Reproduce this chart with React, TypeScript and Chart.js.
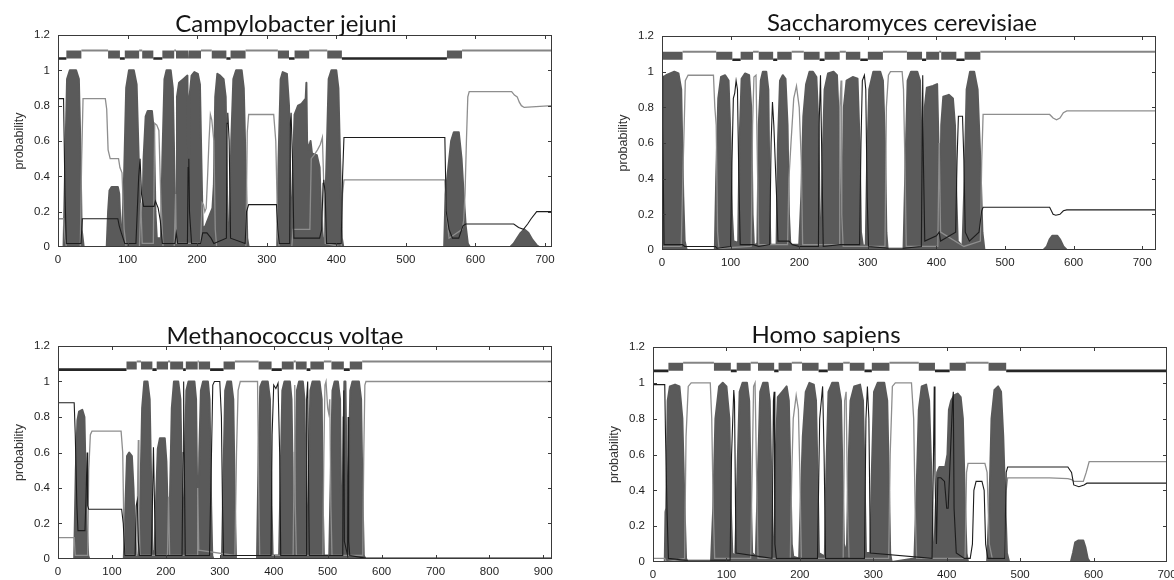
import React, { useEffect, useRef } from 'react';
import { Chart, registerables } from 'chart.js';

Chart.register(...registerables);

type Pt = [number, number];
type Seg = [number, number];

// ---------------- shared tick labels ----------------
const yTickValues = [0, 0.2, 0.4, 0.6, 0.8, 1, 1.2];
const xTicks700 = [0, 100, 200, 300, 400, 500, 600, 700];
const xTicks900 = [0, 100, 200, 300, 400, 500, 600, 700, 800, 900];

// ---------------- Campylobacter jejuni ----------------
const cjTm: Pt[] = [
  [0, 0], [8, 0], [10, 0.4], [13, 0.95], [17, 1], [26, 1], [30, 0.95], [32, 0.6], [34, 0.1], [37, 0],
  [70, 0], [72, 0.2], [74, 0.32], [77, 0.34], [86, 0.34], [88, 0.3], [90, 0.1], [92, 0.06], [95, 0.4], [98, 0.9],
  [102, 1], [109, 1], [113, 0.92], [116, 0.5], [119, 0.12], [121, 0.1], [123, 0.5], [126, 0.74], [129, 0.77],
  [135, 0.77], [138, 0.65], [140, 0.2], [142, 0.05], [148, 0.05], [150, 0.5], [153, 0.95], [156, 1], [162, 1],
  [165, 0.9], [167, 0.5], [169, 0.1], [170, 0.1], [171, 0.85], [174, 0.93], [180, 0.95], [186, 0.97], [187, 0.5],
  [188, 0.3], [189, 0.85], [192, 0.97], [196, 0.99], [201, 0.98], [204, 0.92], [206, 0.5], [208, 0.1], [212, 0.12],
  [218, 0.18], [222, 0.22], [224, 0.35], [226, 0.85], [229, 0.98], [233, 0.97], [238, 0.95], [241, 0.85], [243, 0.3],
  [245, 0.05], [247, 0.1], [249, 0.6], [252, 0.95], [256, 1], [264, 1], [267, 0.9], [270, 0.4], [272, 0.05], [274, 0],
  [315, 0], [317, 0.5], [320, 0.95], [323, 0.99], [329, 0.98], [332, 0.8], [334, 0.3], [336, 0.05], [338, 0.5],
  [340, 0.75], [345, 0.8], [350, 0.81], [354, 0.83], [356, 0.84], [357, 0.93], [358, 0.6], [360, 0.55], [363, 0.6],
  [365, 0.53], [372, 0.52], [376, 0.45], [378, 0.2], [380, 0.05], [383, 0.05], [386, 0.5], [389, 0.95], [393, 1],
  [400, 1], [403, 0.9], [406, 0.4], [408, 0.05], [410, 0],
  [555, 0], [557, 0.3], [561, 0.45], [565, 0.6], [569, 0.65], [576, 0.65], [580, 0.5], [583, 0.3], [586, 0.12],
  [589, 0.02], [592, 0], [650, 0], [655, 0.02], [660, 0.05], [665, 0.08], [670, 0.1], [676, 0.08], [682, 0.04],
  [688, 0.01], [692, 0], [710, 0],
];
const cjIn: Pt[] = [
  [0, 0.84], [8, 0.84], [10, 0.3], [12, 0.02], [33, 0.02], [35, 0.16], [86, 0.16], [88, 0.12], [91, 0.08], [96, 0.02],
  [112, 0.02], [116, 0.4], [118, 0.5], [120, 0.3], [123, 0.23], [138, 0.23], [140, 0.26], [144, 0.22], [147, 0.15],
  [150, 0.02], [168, 0.02], [170, 0.08], [172, 0.02], [186, 0.02], [187, 0.45], [188, 0.5], [189, 0.2], [192, 0.02],
  [205, 0.02], [208, 0.08], [214, 0.08], [220, 0.05], [224, 0.02], [242, 0.05], [243, 0.7], [244, 0.76], [246, 0.6],
  [248, 0.05], [269, 0.02], [271, 0.2], [274, 0.24], [314, 0.24], [316, 0.1], [318, 0.02], [333, 0.02], [334, 0.7],
  [335, 0.76], [337, 0.5], [339, 0.05], [376, 0.05], [379, 0.1], [381, 0.36], [382, 0.38], [384, 0.3], [386, 0.02],
  [407, 0.02], [409, 0.4], [411, 0.62], [556, 0.62], [558, 0.2], [562, 0.1], [567, 0.05], [576, 0.05], [582, 0.12],
  [586, 0.13], [655, 0.13], [662, 0.11], [669, 0.1], [675, 0.13], [680, 0.16], [688, 0.2], [710, 0.2],
];
const cjOut: Pt[] = [
  [0, 0.16], [8, 0.16], [10, 0.05], [12, 0], [32, 0], [34, 0.5], [36, 0.84], [68, 0.84], [70, 0.78], [72, 0.55],
  [75, 0.5], [87, 0.5], [89, 0.45], [92, 0.42], [95, 0.1], [98, 0], [117, 0], [119, 0.25], [121, 0.02], [137, 0.02],
  [139, 0.7], [142, 0.69], [145, 0.66], [148, 0.25], [151, 0], [167, 0], [169, 0.3], [170, 0.02], [205, 0.02],
  [207, 0.25], [209, 0.24], [211, 0.2], [213, 0.22], [215, 0.4], [217, 0.6], [219, 0.75], [221, 0.72], [224, 0.6],
  [226, 0.1], [228, 0], [270, 0], [272, 0.65], [274, 0.75], [310, 0.75], [313, 0.6], [316, 0.05], [318, 0], [336, 0],
  [338, 0.1], [362, 0.1], [364, 0.5], [368, 0.52], [373, 0.55], [377, 0.58], [380, 0.62], [382, 0.35], [384, 0.02],
  [407, 0], [409, 0.3], [411, 0.38], [556, 0.38], [558, 0.2], [562, 0.05], [581, 0.1], [583, 0.15], [585, 0.3],
  [587, 0.6], [589, 0.85], [591, 0.88], [652, 0.88], [656, 0.86], [660, 0.85], [663, 0.82], [666, 0.8], [670, 0.79],
  [710, 0.8],
];
const cjBoxes: Seg[] = [
  [12, 33.6], [72, 89], [96, 116.6], [121, 137], [150, 167], [169.6, 187], [188, 205.5], [221, 242], [248, 269.6],
  [316, 332], [340, 361], [387, 408], [559, 580.7],
];
const cjInSegs: Seg[] = [[0, 12], [89, 96], [137, 150], [187, 188], [242, 248], [332, 340], [408, 559]];
const cjOutSegs: Seg[] = [[33.6, 72], [116.6, 121], [167, 169.6], [205.5, 221], [269.6, 316], [361, 387], [580.7, 710]];

// ---------------- Saccharomyces cerevisiae ----------------
const scTm: Pt[] = [
  [0, 0.9], [2, 0.97], [6, 0.98], [12, 0.99], [18, 1], [24, 0.99], [28, 0.9], [31, 0.3], [33, 0.05], [36, 0],
  [77, 0], [79, 0.4], [82, 0.85], [86, 0.97], [92, 0.98], [97, 0.95], [100, 0.6], [102, 0.2], [104, 0.05],
  [111, 0.04], [113, 0.6], [116, 0.96], [121, 0.99], [127, 0.98], [130, 0.8], [132, 0.2], [134, 0.02], [139, 0.04],
  [141, 0.7], [144, 0.95], [147, 1], [152, 1], [155, 0.9], [157, 0.2], [158, 0.03], [167, 0.03], [169, 0.6],
  [172, 0.95], [176, 0.98], [180, 0.96], [183, 0.7], [185, 0.2], [187, 0.03], [200, 0.03], [203, 0.3], [206, 0.75],
  [210, 0.93], [215, 1], [220, 1], [225, 0.97], [228, 0.7], [230, 0.1], [232, 0.03], [234, 0.5], [237, 0.9],
  [242, 0.99], [250, 1], [255, 0.98], [258, 0.7], [260, 0.15], [262, 0.1], [265, 0.8], [269, 0.95], [278, 0.97],
  [285, 0.96], [288, 0.6], [290, 0.1], [293, 0.02], [297, 0.03], [299, 0.5], [302, 0.9], [308, 1], [318, 1],
  [322, 0.95], [325, 0.6], [327, 0.1], [329, 0], [352, 0], [355, 0.5], [358, 0.95], [363, 1], [372, 1], [376, 0.95],
  [379, 0.5], [381, 0.1], [383, 0.8], [386, 0.91], [395, 0.92], [401, 0.93], [403, 0.6], [405, 0.1], [407, 0.7],
  [410, 0.86], [418, 0.87], [424, 0.85], [427, 0.7], [429, 0.3], [431, 0.05], [438, 0.02], [441, 0.4], [444, 0.9],
  [449, 1], [455, 1], [460, 0.9], [464, 0.5], [467, 0.1], [470, 0], [556, 0], [561, 0.02], [565, 0.06], [569, 0.08],
  [576, 0.08], [580, 0.06], [585, 0.02], [590, 0], [720, 0],
];
const scIn: Pt[] = [
  [0, 0.98], [1, 0.7], [3, 0.03], [30, 0.03], [33, 0.02], [78, 0.02], [80, 0.01], [100, 0.02], [102, 0.5],
  [104, 0.85], [106, 0.88], [108, 0.95], [110, 0.9], [112, 0.4], [114, 0.03], [133, 0.03], [141, 0.02], [157, 0.03],
  [159, 0.6], [161, 0.83], [163, 0.7], [167, 0.3], [169, 0.05], [185, 0.05], [190, 0.03], [200, 0.02], [228, 0.02],
  [229, 0.7], [231, 0.98], [233, 0.5], [235, 0.02], [260, 0.03], [288, 0.03], [290, 0.6], [292, 0.95], [295, 0.98],
  [297, 0.9], [299, 0.3], [301, 0.02], [330, 0.01], [352, 0.01], [378, 0.02], [380, 0.98], [381, 0.5], [383, 0.05],
  [400, 0.08], [404, 0.1], [406, 0.05], [428, 0.1], [430, 0.5], [432, 0.75], [438, 0.75], [440, 0.5], [442, 0.1],
  [448, 0.05], [462, 0.1], [466, 0.22], [468, 0.24], [565, 0.24], [570, 0.2], [574, 0.195], [580, 0.2], [585, 0.22],
  [590, 0.225], [720, 0.225],
];
const scOut: Pt[] = [
  [0, 0.02], [28, 0.02], [31, 0.5], [34, 0.95], [38, 0.98], [75, 0.98], [77, 0.8], [79, 0.7], [81, 0.1], [83, 0.01],
  [130, 0.02], [132, 0.7], [134, 0.97], [137, 0.98], [139, 0.5], [141, 0.03], [183, 0.03], [185, 0.4], [188, 0.6],
  [192, 0.85], [196, 0.92], [200, 0.8], [203, 0.5], [205, 0.03], [258, 0.03], [259, 0.8], [261, 0.95], [262, 0.2],
  [264, 0.02], [325, 0.02], [327, 0.8], [330, 0.98], [333, 1], [350, 1], [352, 0.9], [354, 0.5], [356, 0.02],
  [402, 0.02], [404, 0.6], [406, 0.1], [440, 0.02], [464, 0.05], [466, 0.5], [468, 0.76], [565, 0.76], [570, 0.74],
  [575, 0.73], [580, 0.74], [585, 0.77], [590, 0.78], [720, 0.78],
];
const scBoxes: Seg[] = [
  [1, 30], [79, 102.5], [114.6, 132.7], [141, 162], [168, 189], [206.7, 229.7], [237, 259], [268, 289], [300, 322],
  [357, 379], [385, 404], [407, 429], [441, 464],
];
const scInSegs: Seg[] = [[0, 1], [102.5, 114.6], [162, 168], [229.7, 237], [289, 300], [379, 385], [429, 441]];
const scOutSegs: Seg[] = [[30, 79], [132.7, 141], [189, 206.7], [259, 268], [322, 357], [404, 407], [464, 720]];

// ---------------- Methanococcus voltae ----------------
const mvTm: Pt[] = [
  [0, 0], [30, 0], [33, 0.5], [36, 0.78], [39, 0.83], [45, 0.84], [49, 0.8], [51, 0.5], [53, 0.2], [56, 0.02], [58, 0],
  [122, 0], [125, 0.3], [128, 0.58], [132, 0.6], [137, 0.58], [140, 0.4], [143, 0.1], [146, 0.02], [150, 0.02],
  [153, 0.4], [156, 0.85], [160, 1], [166, 1], [170, 0.9], [173, 0.4], [175, 0.05], [179, 0.02], [182, 0.35],
  [185, 0.62], [189, 0.68], [198, 0.68], [201, 0.55], [204, 0.2], [206, 0.02], [208, 0.4], [211, 0.85], [215, 1],
  [223, 1], [227, 0.9], [230, 0.4], [232, 0.03], [235, 0.5], [238, 0.95], [242, 1], [253, 1], [256, 0.9], [258, 0.4],
  [260, 0.1], [262, 0.6], [265, 0.95], [269, 1], [278, 1], [281, 0.9], [284, 0.3], [286, 0.02], [288, 0],
  [304, 0], [307, 0.5], [310, 0.95], [314, 1], [321, 1], [325, 0.9], [328, 0.3], [330, 0],
  [369, 0], [372, 0.6], [375, 0.97], [379, 1], [389, 1], [393, 0.9], [396, 0.3], [398, 0.02], [410, 0.02],
  [413, 0.5], [416, 0.95], [420, 1], [430, 1], [433, 0.9], [436, 0.3], [438, 0.05], [440, 0.5], [443, 0.95],
  [447, 1], [454, 1], [457, 0.9], [460, 0.3], [462, 0.05], [465, 0.5], [468, 0.95], [472, 1], [485, 1], [489, 0.9],
  [491, 0.3], [493, 0.02], [503, 0.02], [506, 0.5], [509, 0.95], [513, 1], [519, 1], [523, 0.9], [525, 0.3],
  [527, 0.05], [529, 0.6], [531, 1], [533, 1], [535, 0.5], [537, 0.05], [539, 0.5], [542, 0.95], [546, 1], [558, 1],
  [562, 0.9], [565, 0.3], [567, 0.02], [570, 0], [916, 0],
];
const mvIn: Pt[] = [
  [0, 0.88], [30, 0.88], [32, 0.7], [35, 0.3], [37, 0.16], [50, 0.16], [52, 0.35], [54, 0.6], [55, 0.3], [57, 0.28],
  [60, 0.28], [118, 0.28], [121, 0.2], [124, 0.02], [143, 0.02], [145, 0.3], [147, 0.33], [149, 0.1], [151, 0.02],
  [173, 0.02], [175, 0.3], [177, 0.63], [179, 0.3], [181, 0.02], [230, 0.02], [232, 0.6], [233, 1], [234, 0.6],
  [236, 0.02], [281, 0.02], [284, 0.5], [287, 0.98], [290, 1], [300, 1], [303, 0.8], [305, 0.3], [307, 0.02],
  [395, 0.02], [397, 0.7], [400, 0.98], [404, 0.96], [408, 0.99], [411, 0.6], [413, 0.02], [460, 0.02], [461, 0.9],
  [463, 1], [465, 0.3], [466, 0.02], [528, 0.02], [529, 0.8], [530, 0.95], [531, 0.1], [537, 0.02], [538, 0.8],
  [539, 0.1], [541, 0.02], [570, 0.005], [916, 0.005],
];
const mvOut: Pt[] = [
  [0, 0.12], [30, 0.12], [32, 0.02], [55, 0.02], [57, 0.5], [60, 0.7], [63, 0.72], [117, 0.72], [120, 0.6],
  [122, 0.2], [124, 0.02], [146, 0.02], [148, 0.5], [149, 0.67], [150, 0.3], [152, 0.02], [203, 0.02], [205, 0.35],
  [207, 0.02], [258, 0.02], [259, 0.4], [261, 0.05], [328, 0.02], [331, 0.6], [334, 0.95], [338, 1], [370, 1],
  [372, 0.4], [374, 0.02], [436, 0.02], [438, 0.6], [439, 0.98], [440, 0.3], [442, 0.02], [491, 0.02], [493, 0.6],
  [495, 0.98], [497, 1], [500, 0.85], [502, 0.82], [504, 0.9], [506, 0.3], [508, 0.02], [565, 0.02], [567, 0.6],
  [569, 0.98], [571, 1], [916, 1],
];
const mvBoxes: Seg[] = [
  [127, 146], [154, 175], [183, 204], [208, 232], [237, 259], [261, 282], [307, 328], [372, 396], [415, 437],
  [441, 461], [468, 493], [507, 530], [541, 564],
];
const mvInSegs: Seg[] = [[0, 127], [175, 183], [232, 237], [282, 307], [396, 415], [461, 468], [530, 541]];
const mvOutSegs: Seg[] = [[146, 154], [204, 208], [259, 261], [328, 372], [437, 441], [493, 507], [564, 916]];

// ---------------- Homo sapiens ----------------
const hsTm: Pt[] = [
  [0, 0], [16, 0], [17, 0.28], [18, 0.3], [20, 0.9], [23, 0.98], [30, 0.99], [36, 0.98], [40, 0.8], [43, 0.3],
  [45, 0.02], [47, 0], [79, 0], [82, 0.3], [85, 0.8], [90, 0.98], [95, 1], [100, 0.98], [104, 0.8], [106, 0.3],
  [108, 0.05], [112, 0.03], [115, 0.5], [118, 0.95], [122, 1], [128, 1], [131, 0.9], [133, 0.4], [135, 0.05],
  [140, 0.03], [143, 0.5], [146, 0.95], [150, 1], [156, 1], [159, 0.9], [161, 0.5], [163, 0.05], [165, 0.05],
  [167, 0.6], [170, 0.92], [176, 0.95], [182, 0.98], [185, 0.9], [187, 0.5], [189, 0.1], [191, 0.03], [199, 0.02],
  [201, 0.3], [204, 0.7], [208, 0.95], [213, 1], [219, 0.99], [222, 0.9], [224, 0.5], [226, 0.05], [234, 0.03],
  [236, 0.5], [239, 0.95], [244, 1], [252, 1], [256, 0.9], [258, 0.5], [260, 0.1], [264, 0.05], [266, 0.5],
  [269, 0.9], [274, 0.98], [282, 0.99], [286, 0.9], [288, 0.5], [290, 0.05], [296, 0.05], [298, 0.5], [301, 0.95],
  [306, 1], [315, 1], [319, 0.9], [321, 0.5], [323, 0.05], [325, 0], [356, 0.02], [359, 0.4], [362, 0.85],
  [366, 0.98], [372, 0.99], [376, 0.9], [379, 0.5], [381, 0.1], [383, 0.02], [385, 0.3], [387, 0.5], [390, 0.53],
  [398, 0.53], [401, 0.6], [403, 0.85], [406, 0.9], [410, 0.93], [415, 0.94], [419, 0.92], [422, 0.8], [425, 0.3],
  [427, 0.05], [429, 0], [455, 0], [458, 0.3], [461, 0.8], [465, 0.96], [470, 0.98], [474, 0.95], [477, 0.7],
  [480, 0.3], [482, 0.05], [485, 0], [569, 0], [572, 0.05], [575, 0.11], [579, 0.12], [586, 0.12], [589, 0.08],
  [592, 0.02], [595, 0], [700, 0],
];
const hsIn: Pt[] = [
  [0, 0.99], [16, 0.99], [17, 0.72], [19, 0.3], [21, 0.02], [44, 0.01], [105, 0.01], [107, 0.6], [110, 0.96],
  [111, 0.9], [113, 0.05], [162, 0.02], [164, 0.9], [165, 0.95], [166, 0.1], [168, 0.02], [224, 0.02], [227, 0.8],
  [231, 0.98], [233, 0.6], [235, 0.02], [288, 0.02], [290, 0.8], [292, 0.98], [294, 0.8], [296, 0.05], [380, 0.02],
  [382, 0.6], [383, 0.98], [384, 0.5], [386, 0.1], [388, 0.47], [392, 0.47], [397, 0.45], [400, 0.3], [402, 0.3],
  [408, 0.9], [409, 0.95], [410, 0.3], [413, 0.05], [424, 0.02], [432, 0.02], [435, 0.1], [437, 0.4], [440, 0.45],
  [448, 0.45], [451, 0.4], [453, 0.1], [456, 0.02], [479, 0.02], [481, 0.5], [483, 0.53], [565, 0.53], [570, 0.5],
  [573, 0.43], [580, 0.42], [587, 0.43], [591, 0.44], [700, 0.44],
];
const hsOut: Pt[] = [
  [0, 0.02], [16, 0.02], [18, 0], [43, 0.02], [45, 0.7], [48, 0.98], [52, 1], [78, 1], [80, 0.8], [82, 0.3],
  [84, 0.02], [133, 0.02], [135, 0.5], [137, 0.98], [139, 1], [141, 0.5], [143, 0.02], [187, 0.02], [189, 0.5],
  [191, 0.8], [195, 0.93], [198, 0.85], [200, 0.5], [202, 0.02], [259, 0.02], [261, 0.9], [263, 0.95], [265, 0.3],
  [267, 0.02], [321, 0.02], [323, 0.6], [326, 0.98], [330, 1], [352, 1], [355, 0.8], [357, 0.3], [359, 0.02],
  [425, 0.02], [427, 0.5], [429, 0.55], [452, 0.55], [455, 0.5], [458, 0.1], [462, 0.02], [479, 0.02], [481, 0.4],
  [483, 0.47], [540, 0.47], [565, 0.465], [570, 0.46], [573, 0.45], [586, 0.45], [590, 0.5], [594, 0.56], [700, 0.56],
];
const hsBoxes: Seg[] = [
  [21, 41], [83, 106], [114, 133], [143, 165], [171, 189], [203, 225.5], [238, 259], [268, 288], [298, 322],
  [362, 384], [404, 426], [457, 481],
];
const hsInSegs: Seg[] = [[0, 21], [106, 114], [165, 171], [225.5, 238], [288, 298], [384, 404], [481, 700]];
const hsOutSegs: Seg[] = [[41, 83], [133, 143], [189, 203], [259, 268], [322, 362], [426, 457]];

// ---------------- layout ----------------
interface PanelSpec {
  title: string;
  tx: number; tb: number;
  pl: number; pt: number; pr: number; pb: number;
  xmax: number; xTicks: number[];
  tm: Pt[]; inside: Pt[]; outside: Pt[]; boxes: Seg[]; inSegs: Seg[]; outSegs: Seg[];
}

const panels: PanelSpec[] = [
  { title: 'Campylobacter jejuni', tx: 286, tb: 32, pl: 58, pt: 35, pr: 552, pb: 247, xmax: 710, xTicks: xTicks700,
    tm: cjTm, inside: cjIn, outside: cjOut, boxes: cjBoxes, inSegs: cjInSegs, outSegs: cjOutSegs },
  { title: 'Saccharomyces cerevisiae', tx: 902, tb: 31, pl: 662, pt: 36, pr: 1156, pb: 250, xmax: 720, xTicks: xTicks700,
    tm: scTm, inside: scIn, outside: scOut, boxes: scBoxes, inSegs: scInSegs, outSegs: scOutSegs },
  { title: 'Methanococcus voltae', tx: 285, tb: 344, pl: 58, pt: 346, pr: 552, pb: 559, xmax: 916, xTicks: xTicks900,
    tm: mvTm, inside: mvIn, outside: mvOut, boxes: mvBoxes, inSegs: mvInSegs, outSegs: mvOutSegs },
  { title: 'Homo sapiens', tx: 826, tb: 343, pl: 653, pt: 347, pr: 1167, pb: 562, xmax: 700, xTicks: xTicks700,
    tm: hsTm, inside: hsIn, outside: hsOut, boxes: hsBoxes, inSegs: hsInSegs, outSegs: hsOutSegs },
];

const IN_Y = 1.067;
const OUT_Y = 1.112;
const FILL = '#5a5a5a';

const toXY = (pts: Pt[]) => pts.map(([x, y]) => ({ x, y }));
const segData = (segs: Seg[], y: number) => {
  const out: { x: number; y: number | null }[] = [];
  segs.forEach(([a, b]) => { out.push({ x: a, y }, { x: b, y }, { x: b, y: null }); });
  return out;
};
const boxData = (boxes: Seg[], xmax: number) => {
  const out: { x: number; y: number }[] = [{ x: 0, y: IN_Y }];
  boxes.forEach(([a, b]) => { out.push({ x: a, y: IN_Y }, { x: a, y: OUT_Y }, { x: b, y: OUT_Y }, { x: b, y: IN_Y }); });
  out.push({ x: xmax, y: IN_Y });
  return out;
};

const framePlugin = {
  id: 'frame',
  afterDraw(chart: any) {
    const { ctx, chartArea } = chart;
    const { left, top, right, bottom } = chartArea;
    const xs = chart.scales.x;
    const ys = chart.scales.y;
    ctx.save();
    ctx.strokeStyle = '#3a3a3a';
    ctx.lineWidth = 1;
    ctx.strokeRect(Math.round(left) + 0.5, Math.round(top) + 0.5, Math.round(right - left) - 1, Math.round(bottom - top) - 1);
    ctx.beginPath();
    xs.ticks.forEach((t: any) => {
      const px = Math.round(xs.getPixelForValue(t.value)) + 0.5;
      if (px <= left + 1 || px >= right - 1) return;
      ctx.moveTo(px, bottom); ctx.lineTo(px, bottom - 4);
      ctx.moveTo(px, top); ctx.lineTo(px, top + 4);
    });
    ys.ticks.forEach((t: any) => {
      const py = Math.round(ys.getPixelForValue(t.value)) + 0.5;
      if (py <= top + 1 || py >= bottom - 1) return;
      ctx.moveTo(left, py); ctx.lineTo(left + 4, py);
      ctx.moveTo(right, py); ctx.lineTo(right - 4, py);
    });
    ctx.stroke();
    ctx.restore();
  },
};

const tickFont = { family: '"Liberation Sans", Arial, sans-serif', size: 11.5 };

function PanelChart({ p }: { p: PanelSpec }) {
  const ref = useRef<HTMLCanvasElement | null>(null);
  const W = p.pr - p.pl + 78;
  const H = p.pb - p.pt + 38;
  useEffect(() => {
    if (!ref.current) return;
    const chart = new Chart(ref.current, {
      type: 'line',
      data: {
        datasets: [
          { label: 'inside', data: toXY(p.inside), borderColor: '#1c1c1c', borderWidth: 1.1, pointRadius: 0, fill: false, order: 0 },
          { label: 'outside', data: toXY(p.outside), borderColor: '#8e8e8e', borderWidth: 1.3, pointRadius: 0, fill: false, order: 0 },
          { label: 'topo-in', data: segData(p.inSegs, IN_Y), borderColor: '#262626', borderWidth: 2.6, pointRadius: 0, fill: false, spanGaps: false, order: 1 },
          { label: 'topo-out', data: segData(p.outSegs, OUT_Y), borderColor: '#858585', borderWidth: 2, pointRadius: 0, fill: false, spanGaps: false, order: 1 },
          { label: 'tm-box', data: boxData(p.boxes, p.xmax), borderColor: 'rgba(0,0,0,0)', borderWidth: 0, backgroundColor: FILL, pointRadius: 0, fill: { value: IN_Y }, order: 2 },
          { label: 'transmembrane', data: toXY(p.tm), borderColor: FILL, borderWidth: 2, borderJoinStyle: 'round', backgroundColor: FILL, pointRadius: 0, fill: 'origin', order: 3 },
        ] as any,
      },
      options: {
        animation: false,
        responsive: false,
        devicePixelRatio: 1,
        events: [],
        layout: { padding: { left: 0, top: 8, right: 20, bottom: 0 } },
        elements: { line: { tension: 0 } },
        plugins: { legend: { display: false }, tooltip: { enabled: false }, title: { display: false } },
        scales: {
          x: {
            type: 'linear', min: 0, max: p.xmax,
            grid: { display: false, drawTicks: false }, border: { display: false },
            afterBuildTicks: (s: any) => { s.ticks = p.xTicks.map((v) => ({ value: v })); },
            afterFit: (s: any) => { s.height = 30; s.paddingLeft = 0; s.paddingRight = 0; },
            ticks: { padding: 6, color: '#1e1e1e', font: tickFont, maxRotation: 0, autoSkip: false, callback: (v: any) => String(v) },
          },
          y: {
            type: 'linear', min: 0, max: 1.2,
            grid: { display: false, drawTicks: false }, border: { display: false },
            afterBuildTicks: (s: any) => { s.ticks = yTickValues.map((v) => ({ value: v })); },
            afterFit: (s: any) => { s.width = 58; s.paddingTop = 0; s.paddingBottom = 0; },
            ticks: { padding: 8, color: '#1e1e1e', font: tickFont, autoSkip: false, callback: (v: any) => String(+(+v).toFixed(1)) },
            title: { display: true, text: 'probability', color: '#333', font: { family: '"Liberation Sans", Arial, sans-serif', size: 12.5 }, padding: { top: 12, bottom: 0 } },
          },
        },
      } as any,
      plugins: [framePlugin],
    });
    return () => chart.destroy();
  }, [p]);
  return (
    <>
      <canvas ref={ref} width={W} height={H}
        style={{ position: 'absolute', left: p.pl - 58, top: p.pt - 8, width: W, height: H }} />
      <div style={{ position: 'absolute', left: p.tx, top: p.tb - 21.3, transform: 'translateX(-50%)',
        fontFamily: 'Lato, "Open Sans", sans-serif', fontSize: 24, lineHeight: '24px', whiteSpace: 'nowrap', color: '#141414' }}>
        {p.title}
      </div>
    </>
  );
}

export default function App() {
  return (
    <div style={{ position: 'fixed', left: 0, top: 0, width: 1174, height: 580, overflow: 'hidden', background: '#fff' }}>
      {panels.map((p) => <PanelChart key={p.title} p={p} />)}
    </div>
  );
}
